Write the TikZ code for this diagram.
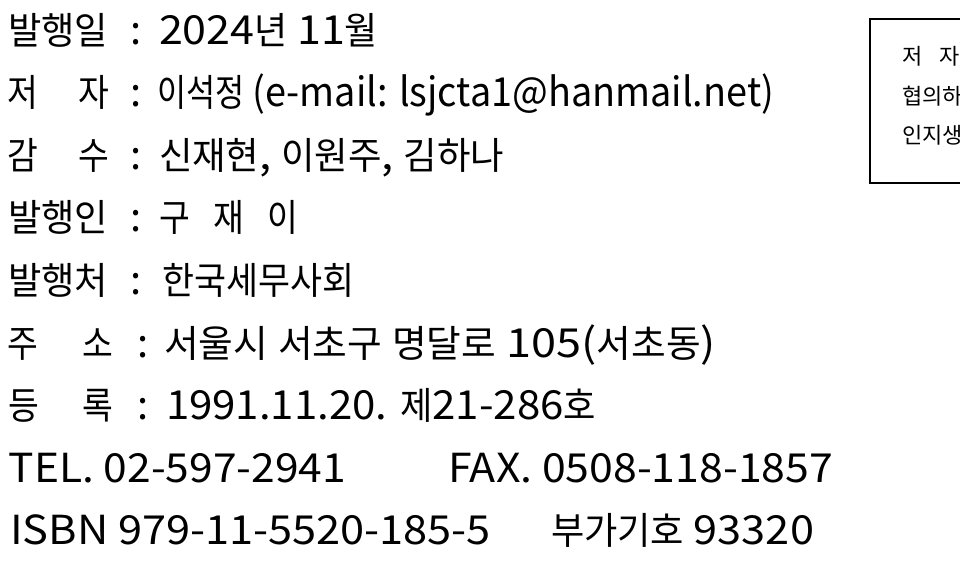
\documentclass[tikz,border=0pt]{standalone}
\usepackage{fontspec}
\usepackage{graphicx}
\setmainfont{Noto Sans CJK KR}
\newfontfamily\hanfont{Noto Sans CJK KR}[FakeStretch=0.89,Scale=0.94]

% hangul syllables are set in a narrower face
\XeTeXinterchartokenstate=1
\newXeTeXintercharclass\hanclass
\newcount\hancode
\hancode="AC00
\loop
  \XeTeXcharclass\hancode=\hanclass
  \ifnum\hancode<"D7A3 \advance\hancode by 1
\repeat
\XeTeXinterchartoks 0 \hanclass = {\hanfont}
\XeTeXinterchartoks 4095 \hanclass = {\hanfont}
\XeTeXinterchartoks \hanclass 0 = {\rmfamily}
\XeTeXinterchartoks \hanclass 4095 = {\rmfamily}

% squeeze a line to the width it has on the page
\newcommand\fit[2]{\resizebox{#1pt}{\height}{#2}}
\newcommand\stampfont{\XeTeXinterchartokenstate=0 \fontsize{22}{22}\selectfont}

\begin{document}
\begin{tikzpicture}[x=1pt, y=-1pt, font=\fontsize{40}{48}\selectfont,
    every node/.style={anchor=base west, inner sep=0pt, outer sep=0pt}]
    \useasboundingbox (0,0) rectangle (960,562);

    % labels
    \node (pub)  at (8,44)    {\fit{100}{발행일}};
    \node (auth) at (8,106.6) {\makebox[101pt][s]{저 자}};
    \node (sup)  at (8,169.2) {\makebox[101pt][s]{감 수}};
    \node (pubr) at (8,231.8) {\fit{100}{발행인}};
    \node (pubh) at (8,294.4) {\fit{100}{발행처}};
    \node (addr) at (7,357)   {\makebox[106pt][s]{주 소}};
    \node (reg)  at (9,419.6) {\makebox[104pt][s]{등 록}};

    % colons
    \node (pubc)  at (130,44)    {:};
    \node (authc) at (130,106.6) {:};
    \node (supc)  at (130,169.2) {:};
    \node (pubrc) at (130,231.8) {:};
    \node (pubhc) at (130,294.4) {:};
    \node (addrc) at (137,357)   {:};
    \node (regc)  at (137,419.6) {:};

    % values
    \node (pubv)  at (159,44)    {\fit{219}{2024년 11월}};
    \node (authv) at (157,106.6) {\fit{617}{이석정 (e-mail: lsjcta1@hanmail.net)}};
    \node (supv)  at (159,169.2) {\fit{345}{신재현, 이원주, 김하나}};
    \node (pubrv) at (159,231.8) {\makebox[139pt][s]{구 재 이}};
    \node (pubhv) at (162,294.4) {\fit{192}{한국세무사회}};
    \node (addrv) at (164,357)   {\fit{552}{서울시 서초구 명달로 105(서초동)}};
    \node (regv)  at (166,419.6) {\fit{430}{1991.11.20. 제21-286호}};

    \node (tel)  at (9,482.2)   {\fit{337}{TEL. 02-597-2941}};
    \node (fax)  at (448,482.2) {\fit{385}{FAX. 0508-118-1857}};
    \node (isbn) at (10,544.8)  {\fit{481}{ISBN 979-11-5520-185-5}};
    \node (add)  at (551,544.8) {\fit{263}{부가기호 93320}};

    % stamp box, cut by the page edge
    \begin{scope}
        \clip (0,0) rectangle (960,562);
        \draw[line width=1.3pt] (870,19) rectangle (980,183);
        \node[font=\stampfont] (st1) at (902,64)  {저\hspace{17pt}자};
        \node[font=\stampfont] (st2) at (902,104) {협의하};
        \node[font=\stampfont] (st3) at (902,143) {인지생};
    \end{scope}
\end{tikzpicture}
\end{document}
